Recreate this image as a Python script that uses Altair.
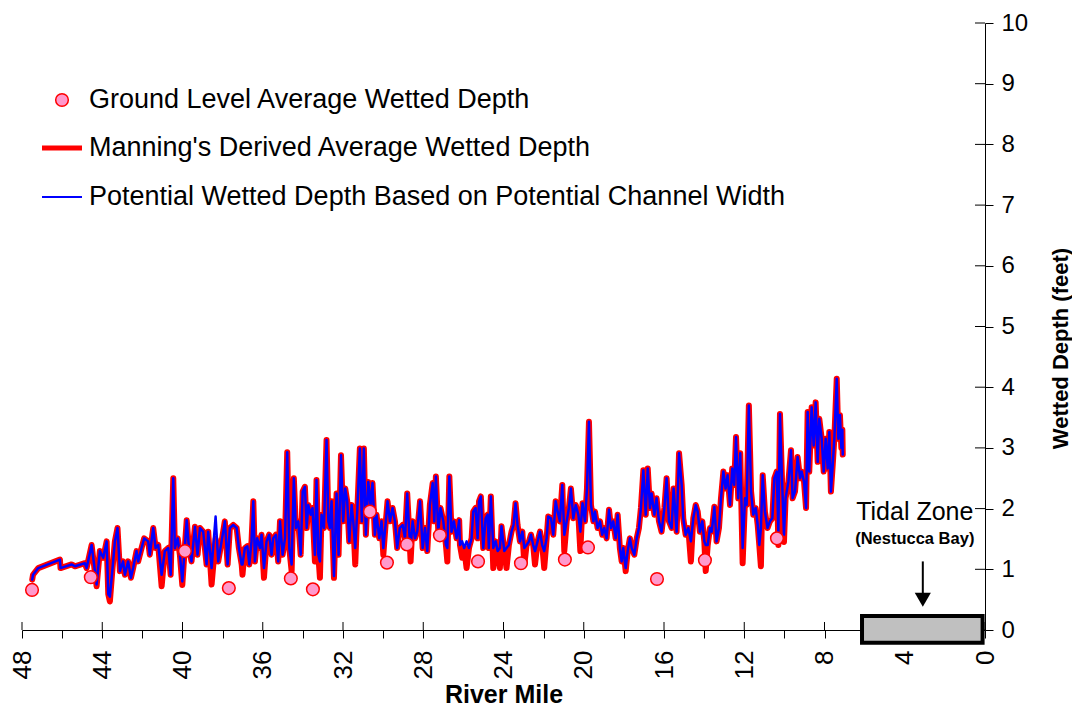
import altair as alt
import pandas as pd

# ---------------- data ----------------
river_mile = [
    47.49, 47.45, 47.19, 46.11, 46.08, 45.53, 45.36, 44.87, 44.78, 44.53, 44.28, 44.12, 43.95, 43.78,
    43.70, 43.62, 43.50, 43.37, 43.24, 43.12, 42.96, 42.87, 42.71, 42.57, 42.46, 42.29, 42.21, 42.04,
    41.91, 41.71, 41.63, 41.46, 41.34, 41.21, 41.04, 40.88, 40.71, 40.59, 40.46, 40.38, 40.24, 40.13,
    40.01, 39.91, 39.79, 39.68, 39.55, 39.38, 39.25, 39.13, 38.97, 38.80, 38.72, 38.55, 38.35, 38.22,
    38.05, 37.89, 37.75, 37.64, 37.47, 37.30, 37.19, 37.05,
    37.01, 36.89, 36.77, 36.67, 36.56, 36.47, 36.39, 36.28, 36.14, 36.06, 35.94, 35.81, 35.68, 35.56,
    35.48, 35.34, 35.23, 35.14, 35.01, 34.89, 34.78, 34.68, 34.56, 34.45, 34.35, 34.23, 34.11, 34.01,
    33.90, 33.81, 33.73, 33.61, 33.52, 33.40, 33.32, 33.23, 33.15, 33.07, 32.95, 32.82, 32.73, 32.65,
    32.57, 32.45, 32.32, 32.22, 32.10, 31.99, 31.89, 31.79, 31.69, 31.57, 31.49, 31.39, 31.29, 31.16,
    31.06, 30.96, 30.86, 30.74, 30.63, 30.53, 30.41, 30.33, 30.19, 30.08, 29.99, 29.88, 29.78, 29.66,
    29.53, 29.41, 29.30, 29.17, 29.03, 28.91, 28.80, 28.70, 28.63, 28.53, 28.41, 28.30, 28.16, 28.03,
    27.91, 27.80, 27.67, 27.53, 27.45, 27.37, 27.25, 27.14, 27.00, 26.87, 26.80, 26.70, 26.59, 26.47,
    26.34, 26.21,
    26.17, 26.06, 25.96, 25.84, 25.72, 25.59, 25.51, 25.39, 25.29, 25.22, 25.13, 25.01, 24.89, 24.79,
    24.73, 24.63, 24.51, 24.39, 24.29, 24.18, 24.10, 23.96, 23.85, 23.73, 23.60, 23.50, 23.40, 23.30,
    23.18, 23.06, 22.96, 22.85, 22.73, 22.63, 22.52, 22.43, 22.30, 22.18, 22.07, 21.97, 21.85, 21.77,
    21.63, 21.52, 21.40, 21.30, 21.19, 21.07, 20.97, 20.85, 20.74, 20.64, 20.52, 20.40, 20.27, 20.17,
    20.06, 19.94, 19.84, 19.74, 19.64, 19.52, 19.44, 19.31, 19.19, 19.08, 18.98, 18.86, 18.74, 18.64,
    18.53, 18.41, 18.31, 18.20, 18.11, 18.03, 17.91, 17.81, 17.70, 17.61, 17.48, 17.36, 17.25, 17.15,
    17.03, 16.91, 16.81, 16.70, 16.62, 16.48, 16.37, 16.25, 16.12, 15.98, 15.87, 15.75, 15.62, 15.52,
    15.37, 15.25, 15.12, 15.04, 14.92, 14.79, 14.66, 14.54, 14.42, 14.32, 14.21, 14.09, 13.99, 13.92,
    13.82, 13.71, 13.62, 13.49, 13.38, 13.26, 13.16, 13.04, 12.93, 12.83, 12.71, 12.60, 12.50, 12.41,
    12.30, 12.20, 12.08, 11.96, 11.88, 11.77, 11.66, 11.55, 11.43, 11.33, 11.25, 11.17, 11.08, 10.97,
    10.84, 10.72, 10.60, 10.50, 10.38, 10.30, 10.22, 10.13, 10.02, 9.94, 9.80, 9.67, 9.59, 9.47,
    9.34, 9.22, 9.14, 9.02, 8.92, 8.84, 8.76, 8.64, 8.54, 8.44, 8.34, 8.26, 8.14, 8.04,
    7.94, 7.84, 7.76, 7.68, 7.59, 7.51, 7.39, 7.31, 7.23, 7.16, 7.11, 7.09,
]

potential_depth = [
    0.83, 0.91, 1.02, 1.16, 1.02, 1.08, 1.05, 1.10, 1.02, 1.40, 0.75, 1.30, 1.19, 1.46,
    0.59, 0.55, 0.97, 1.46, 1.68, 0.97, 1.13, 0.91, 1.13, 0.86, 1.02, 1.30, 1.13, 1.35,
    1.51, 1.46, 1.24, 1.68, 1.35, 1.40, 0.91, 1.30, 1.35, 0.91, 2.50, 1.35, 1.51, 1.24,
    0.80, 1.24, 1.81, 1.35, 1.13, 1.70, 1.24, 1.68, 1.62, 1.08, 1.62, 1.02, 1.87, 1.13,
    1.46, 1.79, 1.08, 1.68, 1.73, 1.68, 1.35, 1.08,
    1.08, 1.35, 1.38, 1.08, 1.46, 2.12, 1.13, 1.51, 1.35, 1.57, 1.02, 1.46, 1.57, 1.24,
    1.51, 1.57, 1.13, 1.79, 1.24, 1.51, 2.93, 1.35, 1.08, 2.50, 1.68, 1.79, 1.24, 2.28,
    2.36, 1.68, 2.06, 1.90, 2.01, 1.24, 2.47, 1.24, 1.13, 1.90, 1.68, 3.13, 1.79, 1.68,
    2.12, 0.89, 2.25, 1.24, 2.88, 1.79, 2.33, 2.12, 1.46, 2.06, 1.79, 1.35, 1.95, 2.99,
    1.79, 2.99, 1.57, 2.44, 2.06, 2.42, 1.57, 1.90, 1.51, 1.79, 1.35, 1.73, 2.12, 1.79,
    2.01, 1.79, 1.35, 1.68, 1.73, 1.51, 2.25, 1.62, 1.35, 1.79, 1.51, 1.62, 2.12, 1.35,
    1.68, 1.30, 2.06, 2.42, 1.79, 2.53, 1.62, 2.01, 1.79, 1.40, 1.35, 2.53, 1.62, 1.79,
    1.51, 1.81,
    1.40, 1.46, 1.35, 1.46, 1.35, 1.51, 1.95, 2.01, 1.51, 2.12, 2.20, 1.35, 1.84, 1.90,
    1.35, 2.20, 1.35, 1.46, 1.30, 1.35, 1.71, 1.30, 1.35, 1.40, 1.62, 1.73, 2.09, 1.73,
    1.46, 1.62, 1.35, 1.40, 1.46, 1.57, 1.40, 1.30, 1.46, 1.62, 1.40, 1.30, 1.51, 1.87,
    1.84, 1.57, 2.12, 1.95, 1.79, 2.39, 1.57, 1.79, 2.01, 2.33, 1.84, 2.06, 1.90, 1.62,
    2.09, 1.79, 2.33, 3.43, 2.06, 1.79, 1.95, 1.68, 1.79, 1.57, 1.68, 1.51, 1.98, 1.68,
    1.79, 1.51, 1.90, 1.35, 1.13, 1.35, 1.02, 1.30, 1.51, 1.35, 1.24, 1.51, 1.68, 2.01,
    2.63, 1.90, 2.66, 2.01, 2.25, 1.90, 2.17, 1.79, 1.62, 2.01, 2.50, 1.79, 1.68, 2.33,
    1.62, 2.91, 2.39, 1.84, 1.57, 1.68, 1.46, 1.84, 2.06, 1.95, 1.62, 1.79, 1.46, 1.40,
    1.40, 1.68, 1.62, 2.03, 1.46, 1.68, 2.17, 2.61, 2.33, 2.55, 2.06, 2.66, 2.39, 3.18,
    2.17, 2.91, 1.35, 2.17, 2.06, 3.70, 2.28, 1.90, 2.01, 1.73, 1.40, 1.68, 2.55, 1.95,
    1.68, 1.79, 1.84, 2.50, 2.61, 1.62, 3.56, 2.61, 1.57, 2.17, 2.44, 2.96, 2.17, 2.28,
    2.85, 2.50, 2.61, 2.44, 2.01, 3.59, 2.61, 3.67, 3.04, 3.75, 2.77, 3.48, 3.15, 2.61,
    3.15, 2.66, 3.26, 2.28, 2.72, 3.15, 4.14, 3.15, 3.54, 3.00, 3.30, 2.89,
]

# Manning's derived depth follows the potential depth except at these lower readings
manning_dips = {
    44.28: 0.72, 43.62: 0.47, 41.04: 0.72, 40.01: 0.74, 38.55: 0.75, 38.35: 1.50,
    37.01: 0.91, 35.94: 0.86, 34.56: 0.97, 33.40: 1.13, 33.15: 0.86, 32.45: 0.86,
    31.39: 1.08, 29.99: 1.24, 28.63: 1.13, 26.80: 1.13, 26.06: 1.19, 25.84: 1.02,
    24.51: 1.02, 24.18: 1.02, 23.85: 1.02, 22.96: 1.08, 22.43: 1.08, 21.97: 1.02,
    20.97: 1.30, 20.17: 1.30, 17.91: 0.97, 14.66: 1.13, 13.92: 0.97, 12.08: 1.10,
    11.17: 1.05, 10.30: 1.40, 10.02: 1.45,
}

ground_mile = [47.50, 44.57, 39.88, 37.69, 34.60, 33.50, 30.66, 29.81, 28.81, 27.17,
               25.27, 23.13, 20.94, 19.79, 16.35, 13.96, 10.37]
ground_depth = [0.66, 0.87, 1.30, 0.69, 0.85, 0.67, 1.95, 1.11, 1.41, 1.56,
                1.13, 1.10, 1.16, 1.36, 0.84, 1.15, 1.51]

x_tick_values = list(range(48, -1, -2))
x_major_ticks = list(range(48, -1, -4))
y_tick_values = [i / 2 for i in range(21)]
y_major_ticks = list(range(0, 11))

legend_labels = [
    "Ground Level Average Wetted Depth",
    "Manning's Derived Average Wetted Depth",
    "Potential Wetted Depth Based on Potential Channel Width",
]

# ---------------- chart ----------------
W, H = 963, 607
FONT = "Liberation Sans"

manning_depth = [manning_dips.get(m, d) for m, d in zip(river_mile, potential_depth)]
lines = pd.DataFrame({
    "mile": river_mile,
    "potential": potential_depth,
    "manning": manning_depth,
    "idx": list(range(len(river_mile))),
})
ground = pd.DataFrame({"mile": ground_mile, "depth": ground_depth})
one = pd.DataFrame({"a": [0]})

xscale = alt.Scale(domain=[48, 0], nice=False, zero=False)
yscale = alt.Scale(domain=[0, 10], nice=False, zero=False)

xaxis = alt.Axis(
    values=x_tick_values,
    labelExpr="datum.value % 4 === 0 ? '' + datum.value : ''",
    labelAngle=270, labelFont=FONT, labelFontSize=26, labelColor="black",
    labelPadding=12, labelFlush=False, labelOverlap=False,
    tickSize=8, tickColor="black", tickWidth=1,
    domainColor="black", domainWidth=1, grid=False,
    title="River Mile", titleFont=FONT, titleFontSize=25, titleFontWeight="bold",
    titleColor="black", titleY=64, titleBaseline="middle", titleAlign="center",
)
yaxis = alt.Axis(
    orient="right", values=y_tick_values,
    labelExpr="datum.value % 1 === 0 ? '' + datum.value : ''",
    labelFont=FONT, labelFontSize=24, labelColor="black", labelPadding=8,
    labelFlush=False, labelOverlap=False,
    tickSize=8, tickColor="black", tickWidth=1,
    domainColor="black", domainWidth=1, grid=False,
    title="Wetted Depth (feet)", titleFont=FONT, titleFontSize=22, titleFontWeight="bold",
    titleColor="black", titleAngle=270, titleX=75, titleY=325,
    titleAlign="center", titleBaseline="middle",
)

red = alt.Chart(lines).mark_line(
    color="#ff0000", strokeWidth=6, strokeJoin="round", strokeCap="round"
).encode(
    x=alt.X("mile:Q", scale=xscale, axis=xaxis),
    y=alt.Y("manning:Q", scale=yscale, axis=yaxis),
    order="idx:Q",
)
blue = alt.Chart(lines).mark_line(
    color="#0000ff", strokeWidth=2.5, strokeJoin="round", strokeCap="round"
).encode(x="mile:Q", y="potential:Q", order="idx:Q")

points = alt.Chart(ground).mark_point(
    shape="circle", filled=True, fill="#ff99cc", stroke="#ff0000",
    strokeWidth=1.5, size=160, opacity=1
).encode(x="mile:Q", y="depth:Q")

tidal_box = alt.Chart(one).mark_rect(
    fill="#c0c0c0", stroke="black", strokeWidth=4
).encode(x=alt.datum(6.13), x2=alt.datum(0.12), y=alt.datum(0.23), y2=alt.datum(-0.21))

arrow_shaft = alt.Chart(one).mark_rule(color="black", strokeWidth=2).encode(
    x=alt.datum(3.1), y=alt.datum(1.13), y2=alt.datum(0.6)
)
arrow_head = alt.Chart(one).mark_point(
    shape="triangle-down", filled=True, color="black", size=260, opacity=1
).encode(x=alt.datum(3.1), y=alt.datum(0.5))

tidal_text = alt.Chart(one).mark_text(
    text="Tidal Zone", font=FONT, fontSize=25, color="black",
    align="center", baseline="alphabetic"
).encode(x=alt.datum(3.5), y=alt.datum(1.82))
bay_text = alt.Chart(one).mark_text(
    text="(Nestucca Bay)", font=FONT, fontSize=16.5, fontWeight="bold", color="black",
    align="center", baseline="alphabetic"
).encode(x=alt.datum(3.5), y=alt.datum(1.41))

# inner halves of the crossing major ticks
x_inner = alt.Chart(pd.DataFrame({"t": x_major_ticks})).mark_rule(color="black", strokeWidth=1).encode(
    x="t:Q", y=alt.value(H - 8), y2=alt.value(H)
)
y_inner = alt.Chart(pd.DataFrame({"t": y_major_ticks})).mark_rule(color="black", strokeWidth=1).encode(
    y="t:Q", x=alt.value(W - 10), x2=alt.value(W)
)

# legend (top-left)
leg_pt = alt.Chart(one).mark_point(
    shape="circle", filled=True, fill="#ff99cc", stroke="#ff0000",
    strokeWidth=1.5, size=160, opacity=1
).encode(x=alt.value(40), y=alt.value(77))
leg_red = alt.Chart(one).mark_rule(color="#ff0000", strokeWidth=5).encode(
    x=alt.value(20), x2=alt.value(60), y=alt.value(125)
)
leg_blue = alt.Chart(one).mark_rule(color="#0000ff", strokeWidth=2).encode(
    x=alt.value(20), x2=alt.value(60), y=alt.value(174)
)
leg_texts = [
    alt.Chart(one).mark_text(
        text=lab, font=FONT, fontSize=27, color="black", align="left", baseline="middle"
    ).encode(x=alt.value(67), y=alt.value(yy))
    for lab, yy in zip(legend_labels, [77, 125, 174])
]

chart = alt.layer(
    x_inner, y_inner, tidal_box, red, blue, points, arrow_shaft, arrow_head, tidal_text, bay_text,
    leg_pt, leg_red, leg_blue, *leg_texts
).properties(
    width=W, height=H,
    autosize=alt.AutoSizeParams(type="none"),
    padding={"left": 14, "top": 15, "right": 87, "bottom": 76},
).configure_view(stroke=None)

chart.save("out.html", embed_options={"renderer": "svg", "actions": False})
